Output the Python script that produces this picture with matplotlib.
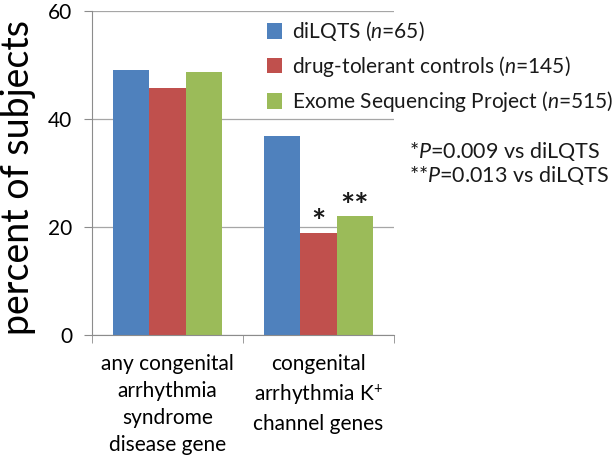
import matplotlib
matplotlib.use('Agg')
import matplotlib.pyplot as plt
import numpy as np

# 数据
categories = ['any congenital\narrhythmia\nsyndrome\ndisease gene',
              'congenital\narrhythmia K$^{+}$\nchannel genes']
series_names = [r'diLQTS ($n$=65)',
                r'drug-tolerant controls ($n$=145)',
                r'Exome Sequencing Project ($n$=515)']
dilqts = [49.1, 36.9]
controls = [45.8, 18.9]
esp = [48.7, 22.0]
marks = [['', ''], ['', '*'], ['', '**']]
colors = ['#4F81BD', '#C0504D', '#9BBB59']

plt.rcParams['font.family'] = ['Lato', 'DejaVu Sans']
plt.rcParams['mathtext.fontset'] = 'custom'
plt.rcParams['mathtext.rm'] = 'Lato'
plt.rcParams['mathtext.it'] = 'Lato:italic'
plt.rcParams['text.color'] = '#1a1a1a'

fig = plt.figure(figsize=(6.13, 4.58), dpi=100)
ax = fig.add_axes([0.150, 0.2686, 0.493, 0.7074])

x = np.arange(len(categories))
w = 0.24
grey = '#8c8c8c'
for i, vals in enumerate([dilqts, controls, esp]):
    pos = x + (i - 1) * w
    ax.bar(pos, vals, w, color=colors[i], label=series_names[i], zorder=2)
    for p, v, m in zip(pos, vals, marks[i]):
        if m:
            ax.text(p, v - 1.0, m, ha='center', va='bottom', fontsize=24,
                    fontweight='bold', zorder=3)

ax.set_xlim(-0.5, 1.5)
ax.set_ylim(0, 60)
ax.set_yticks([0, 20, 40, 60])
ax.yaxis.grid(True, color='#a6a6a6', linewidth=0.9, zorder=0)
ax.set_axisbelow(True)

ax.set_xticks(x)
ax.set_xticklabels(categories, fontsize=15, linespacing=1.42)
ax.set_xticks([-0.5, 0.5, 1.5], minor=True)
ax.tick_params(axis='x', which='major', length=0, pad=14)
ax.tick_params(axis='x', which='minor', length=6, color=grey, direction='out')
ax.tick_params(axis='y', length=6, color=grey, direction='out', labelsize=15, pad=8)

for s in ['top', 'right']:
    ax.spines[s].set_visible(False)
for s in ['left', 'bottom']:
    ax.spines[s].set_color(grey)

ax.set_ylabel('percent of subjects', fontsize=27)
ax.yaxis.set_label_coords(-0.185, 0.485)

leg = fig.legend(loc='upper left', bbox_to_anchor=(0.428, 0.965), fontsize=15,
                 frameon=True, handlelength=0.75, handleheight=0.75,
                 handletextpad=0.45, labelspacing=0.5, borderpad=0.2,
                 borderaxespad=0)
leg.get_frame().set_edgecolor('none')
leg.get_frame().set_facecolor('white')
leg.get_frame().set_alpha(1)

fig.text(0.668, 0.670, r'*$P$=0.009 vs diLQTS', fontsize=15.5, va='center')
fig.text(0.668, 0.617, r'**$P$=0.013 vs diLQTS', fontsize=15.5, va='center')

plt.savefig('out.png', dpi=100)
plt.close()
